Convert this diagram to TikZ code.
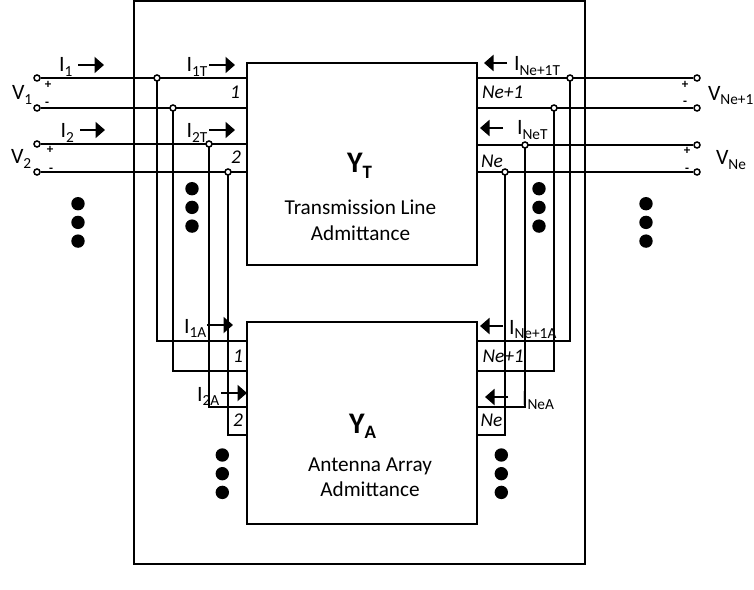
\documentclass[tikz,border=0pt]{standalone}
\usepackage{fontspec}
\setmainfont{Carlito}
\usetikzlibrary{arrows.meta}
\newcommand\fsA{\fontsize{22}{24}\selectfont}
\newcommand\fsB{\fontsize{15.4}{16}\selectfont}
\newcommand\fsC{\fontsize{21.3}{23}\selectfont}
\newcommand\fsD{\fontsize{19.5}{21}\selectfont}
\newcommand\lb[2]{\fsA #1\raisebox{-.2em}{\fsB #2}}
\tikzset{
 x=1bp,y=-1bp,
 wire/.style={line width=2bp,black},
 box/.style={line width=2bp,draw=black},
 term/.style={circle,draw=black,fill=white,line width=1.5bp,inner sep=0pt,minimum size=6bp},
 bigdot/.style={circle,fill=black,inner sep=0pt,minimum size=13.4bp},
 cur/.style={line width=2bp,-{Triangle[length=9.5bp,width=16bp]}},
 txt/.style={anchor=base west,inner sep=0pt,outer sep=0pt},
 txtr/.style={anchor=base east,inner sep=0pt,outer sep=0pt},
 mid/.style={anchor=base,inner sep=0pt,outer sep=0pt,align=center},
 sign/.style={anchor=center,inner sep=0pt,font=\bfseries\fontsize{13}{13}\selectfont},
}
\begin{document}
\begin{tikzpicture}
\useasboundingbox (0,0) rectangle (754,590);
\fill[white] (0,0) rectangle (754,590);
% outer frame
\draw[box] (134,1) rectangle (585,564);
% boxes
\coordinate (ytnw) at (247,63); \coordinate (ytse) at (477,265);
\coordinate (yanw) at (247,322); \coordinate (yase) at (477,524);
\draw[box] (ytnw) rectangle (ytse);
\draw[box] (yanw) rectangle (yase);
% box side points
\foreach \n/\y in {a/78,b/108,c/144,d/172}{\coordinate (TL\n) at (247,\y);}
\foreach \n/\y in {a/78,b/108,c/145,d/172}{\coordinate (TR\n) at (477,\y);}
\foreach \n/\y in {a/341,b/371,c/407,d/435}{\coordinate (AL\n) at (247,\y);\coordinate (AR\n) at (477,\y);}
% terminals
\foreach \n/\y in {a/78,b/108,c/144,d/172}{\node[term] (L\n) at (37,\y) {};}
\foreach \n/\y in {a/78,b/108,c/145,d/172}{\node[term] (R\n) at (697,\y) {};}
% tap junctions
\foreach \n/\x/\y in {a/157/78,b/173/108,c/209/144,d/228/172}{\coordinate (JL\n) at (\x,\y);}
\foreach \n/\x/\y in {a/570/78,b/554/108,c/525/145,d/505/172}{\coordinate (JR\n) at (\x,\y);}
% wires
\foreach \n in {a,b,c,d}{
 \draw[wire] (L\n) -- (TL\n);
 \draw[wire] (TR\n) -- (R\n);
 \draw[wire] (JL\n) |- (AL\n);
 \draw[wire] (JR\n) |- (AR\n);
 \node[term] at (JL\n) {};
 \node[term] at (JR\n) {};
}
% dots
\foreach \x/\y in {78/203.7,192/188.7,539/188.7,646/203.7,222.3/455,501.3/455}{
 \node[bigdot] at (\x,\y) {};
 \node[bigdot] at (\x,\y+18.7) {};
 \node[bigdot] at (\x,\y+37.4) {};
}
% current arrows
\foreach \a/\b/\y in {78/104/65,209/235/65,80/105/130,209/235/130,507/484/63,503/480/128,207/233/325,221/247/393,503/480/326,508/485/397}{
 \coordinate (ca) at (\a,\y); \coordinate (cb) at (\b,\y);
 \draw[cur] (ca) -- (cb);
}
% labels
\node[txt] (l1) at (59,72) {\lb{I}{1}};
\node[txt] (l2) at (186.5,72) {\lb{I}{1T}};
\node[txt] (l3) at (60.5,138) {\lb{I}{2}};
\node[txt] (l4) at (186.5,138) {\lb{I}{2T}};
\node[txt] (l5) at (12,100) {\lb{V}{1}};
\node[txt] (l6) at (11,164) {\lb{V}{2}};
\node[txtr] (n1) at (240,99) {\fsD\itshape 1};
\node[txtr] (n2) at (241,164) {\fsD\itshape 2};
\node[txt] (n3) at (482,99) {\fsD\itshape Ne+1};
\node[txt] (n4) at (481,168) {\fsD\itshape Ne};
\node[txt] (l7) at (514,71) {\lb{I}{Ne+1T}};
\node[txt] (l8) at (517,135) {\lb{I}{NeT}};
\node[txt] (l9) at (708,100.5) {\lb{V}{Ne+1}};
\node[txt] (l10) at (716,165) {\lb{V}{Ne}};
\node[txt] (l11) at (184,333) {\lb{I}{1A}};
\node[txt] (l12) at (197,401.5) {\lb{I}{2A}};
\node[txtr] (n5) at (243,362.5) {\fsD\itshape 1};
\node[txtr] (n6) at (243,426.5) {\fsD\itshape 2};
\node[txt] (n7) at (482.5,362.5) {\fsD\itshape Ne+1};
\node[txt] (n8) at (480.5,426.5) {\fsD\itshape Ne};
\node[txt] (l13) at (509,334) {\lb{I}{Ne+1A}};
\node[txt] (l14) at (522,405) {\lb{I}{NeA}};
% signs
\foreach \i/\s/\x/\y in {s1/+/48/85,s2/-/47/104,s3/+/50/150,s4/-/51/170,s5/+/685/85,s6/-/685/103,s7/+/687/151,s8/-/687/170}{
 \node[sign] (\i) at (\x,\y) {\s};
}
% box titles
\node[txt] (yt) at (347,173) {\fontsize{30}{32}\selectfont\bfseries Y\raisebox{-.2em}{\fontsize{19}{20}\selectfont T}};
\node[mid] (yt1) at (360.5,215) {\fsC Transmission Line};
\node[mid] (yt2) at (360.5,240.5) {\fsC Admittance};
\node[txt] (ya) at (349,433) {\fontsize{30}{32}\selectfont\bfseries Y\raisebox{-.2em}{\fontsize{19}{20}\selectfont A}};
\node[mid] (ya1) at (370,471) {\fsC Antenna Array};
\node[mid] (ya2) at (370,496.5) {\fsC Admittance};
\end{tikzpicture}
\end{document}
